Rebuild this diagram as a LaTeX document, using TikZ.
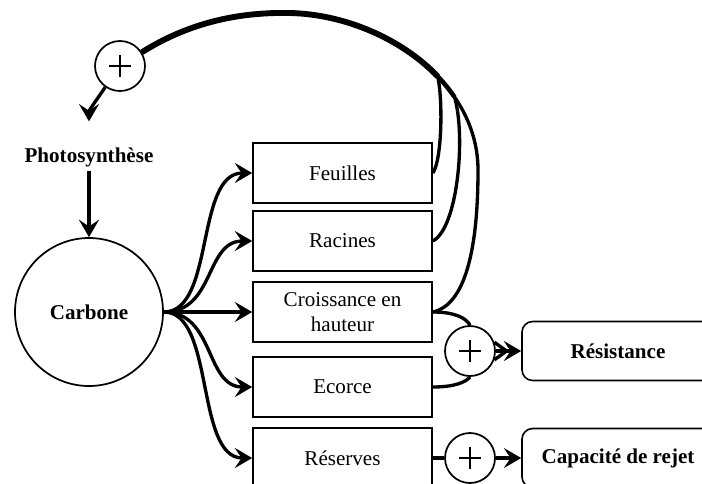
\documentclass[tikz,border=0pt]{standalone}
\usepackage{fontspec}
\setmainfont{Liberation Serif}
\usepackage{tikz}
\usetikzlibrary{arrows.meta}

\begin{document}
\begin{tikzpicture}[x=0.75pt, y=-0.75pt,
    every node/.style={font=\fontsize{15.8}{18.5}\selectfont},
    pool/.style={rectangle, draw, line width=1.2pt, minimum width=134.25pt, minimum height=45pt, align=center},
    outcome/.style={rectangle, draw, rounded corners=8pt, line width=1.2pt, minimum width=144pt, minimum height=44.25pt, font=\fontsize{15.8}{18.5}\selectfont\bfseries},
    plus/.style={circle, draw, line width=1.3pt, minimum size=37.5pt, inner sep=0pt,
        path picture={\draw[line width=1.5pt] ([xshift=-8.25pt]path picture bounding box.center) -- ([xshift=8.25pt]path picture bounding box.center);
                      \draw[line width=1.5pt] ([yshift=-8.25pt]path picture bounding box.center) -- ([yshift=8.25pt]path picture bounding box.center);}},
    flow/.style={-{Stealth[length=13pt, width=15pt, inset=5pt]}, line width=2.5pt},
    link/.style={line width=2.5pt}]
        \useasboundingbox (0,0) rectangle (702,483);
        \clip (0,0) rectangle (702,483);

        % Pools
        \node[font=\fontsize{15.8}{18.5}\selectfont\bfseries] (photo) at (89,157) {Photosynthèse};
        \node[circle, draw, line width=1.3pt, minimum size=111pt, font=\fontsize{15.8}{18.5}\selectfont\bfseries] (carbone) at (89,312) {Carbone};
        \node[pool] (feuilles) at (342.5,173) {Feuilles};
        \node[pool] (racines) at (342.5,241) {Racines};
        \node[pool] (croissance) at (342.5,312) {Croissance en\\hauteur};
        \node[pool] (ecorce) at (342.5,387) {Ecorce};
        \node[pool] (reserves) at (342.5,458) {Réserves};

        % Outcomes
        \node[plus] (plusA) at (120,66) {};
        \node[plus] (plusB) at (470,351) {};
        \node[plus] (plusC) at (470,458) {};
        \node[outcome] (resistance) at (618,351) {Résistance};
        \node[outcome] (rejet) at (618,458) {Capacité de rejet};

        % Merge points on the loop
        \coordinate (top) at (290,13);
        \coordinate (mergeF) at (437.7,76.4);
        \coordinate (mergeR) at (454.4,96.8);
        \coordinate (side) at (478,170);

        \draw[flow] (photo) -- (carbone);
        \draw[flow] (carbone.east) .. controls (215,312) and (195,173) .. (feuilles.west);
        \draw[flow] (carbone.east) .. controls (215,312) and (205,241) .. (racines.west);
        \draw[flow] (carbone) -- (croissance);
        \draw[flow] (carbone.east) .. controls (215,312) and (205,387) .. (ecorce.west);
        \draw[flow] (carbone.east) .. controls (215,312) and (195,458) .. (reserves.west);

        % Feedback to photosynthesis
        \draw[link] (croissance.east) .. controls (465,305) and (478,250) .. (side)
            .. controls (478,143) and (469.2,118.25) .. (mergeR)
            .. controls (449.4,89.6) and (443.85,82.8) .. (mergeF)
            .. controls (400.9,38.1) and (344,14.2) .. (top)
            .. controls (240,12) and (190,22) .. (plusA);
        \draw[link] (racines.east) .. controls (458,228) and (466,135) .. (mergeR);
        \draw[line width=3.4pt] (mergeR) .. controls (449.4,89.6) and (443.85,82.8) .. (mergeF)
            .. controls (400.9,38.1) and (344,14.2) .. (top)
            .. controls (240,12) and (190,22) .. (plusA);
        \draw[link] (feuilles.east) .. controls (442,160) and (443,100) .. (mergeF);
        \draw[line width=4.4pt] (mergeF) .. controls (400.9,38.1) and (344,14.2) .. (top)
            .. controls (240,12) and (190,22) .. (plusA);
        \draw[flow, shorten >=16pt] (plusA.235) .. controls (98,98) and (89,110) .. (photo.north);

        % Resistance and sprouting
        \draw[link] (croissance.east) .. controls (455,312) and (466,318) .. (plusB.north);
        \draw[link] (ecorce.east) .. controls (455,387) and (466,382) .. (plusB.south);
        \draw[flow] (plusB) -- (resistance);
        \draw[link, line join=miter] (plusB.20) -- ([xshift=-11pt]resistance.west) -- (plusB.-20);
        \draw[link] (reserves) -- (plusC);
        \draw[flow] (plusC) -- (rejet);
    \end{tikzpicture}
\end{document}
